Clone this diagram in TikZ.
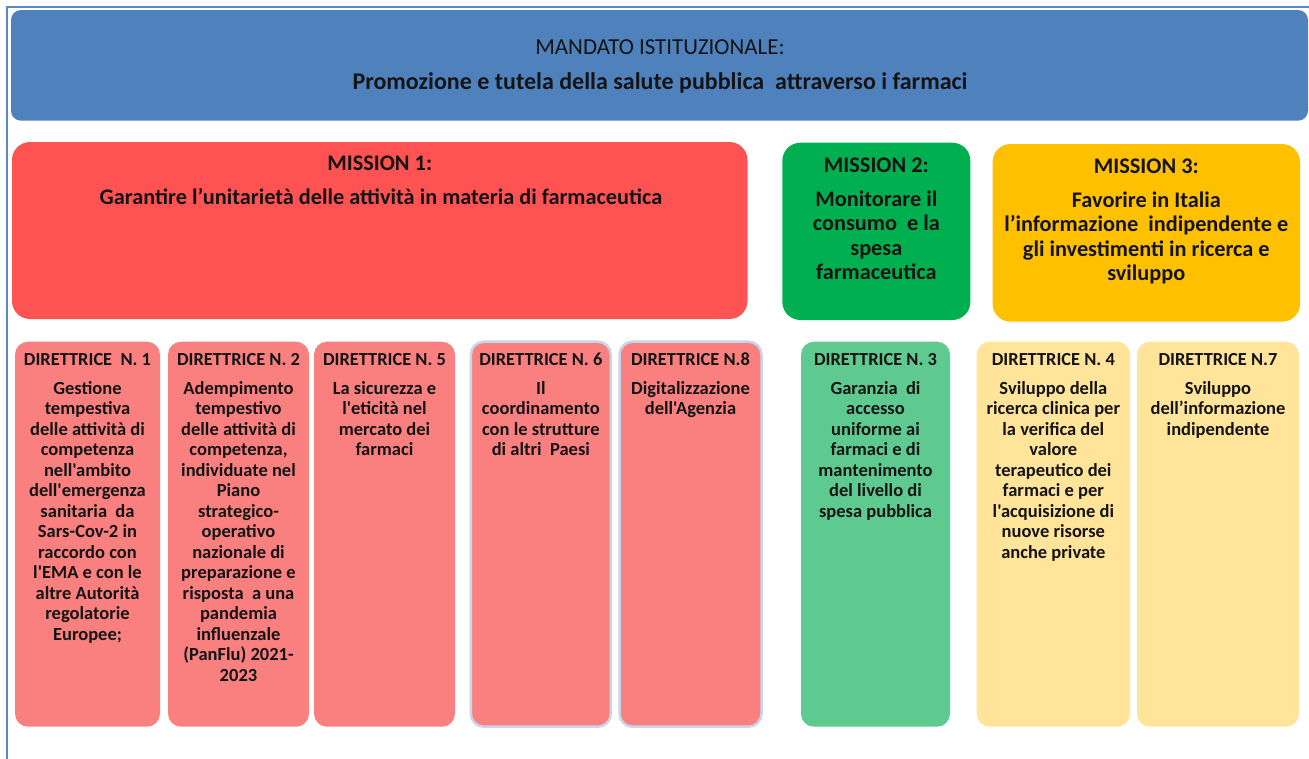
\documentclass[tikz,border=0pt]{standalone}
\usepackage{fontspec}
\newfontfamily\cf{Carlito}
\newcommand{\mlines}[1]{\begin{tabular}[t]{@{}c@{}}#1\end{tabular}}
\definecolor{frameblue}{RGB}{92,135,200}
\definecolor{topblue}{RGB}{79,129,189}
\definecolor{mred}{RGB}{255,82,82}
\definecolor{mgreen}{RGB}{0,176,80}
\definecolor{myellow}{RGB}{255,192,0}
\definecolor{dred}{RGB}{250,128,128}
\definecolor{dgreen}{RGB}{94,202,144}
\definecolor{dyellow}{RGB}{255,228,153}
\definecolor{glow}{RGB}{200,212,232}
\definecolor{txt}{RGB}{20,20,20}
\tikzset{
  box/.style={inner sep=0pt, outer sep=0pt, draw=none},
  topbox/.style={box, fill=topblue, rounded corners=10pt},
  misbox/.style={box, rounded corners=18pt},
  dirbox/.style={box, rounded corners=13pt, minimum height=385pt},
  glowbox/.style={dirbox, draw=glow, line width=2.5pt},
  toptext/.style={inner sep=0pt, anchor=base, text=txt, font=\cf\fontsize{22.9}{26}\selectfont},
  mistitle/.style={inner sep=0pt, anchor=base, text=txt, font=\cf\bfseries\fontsize{22.3}{24.5}\selectfont},
  mistext/.style={inner sep=0pt, anchor=base, text=txt, font=\cf\bfseries\fontsize{22.3}{24.5}\selectfont},
  dirtitle/.style={inner sep=0pt, anchor=base, text=txt, font=\cf\bfseries\fontsize{18.4}{20.5}\selectfont},
  dirtext/.style={inner sep=0pt, anchor=base, text=txt, font=\cf\bfseries\fontsize{18.5}{20.5}\selectfont}
}
\begin{document}
\begin{tikzpicture}[x=1pt,y=-1pt]
\useasboundingbox (0,0) rectangle (1309,758);
\clip (0,0) rectangle (1309,758);
\fill[white] (0,0) rectangle (1309,758);
\draw[frameblue, line width=2pt] (7,800) -- (7,7) -- (1350,7);

% top box
\node[topbox, minimum width=1297pt, minimum height=110.7pt] (top) at (659.5,65.35) {};
\node[toptext] (topt1) at (660,54) {MANDATO ISTITUZIONALE:};
\node[toptext, font=\cf\bfseries\fontsize{24}{26}\selectfont] (topt2) at (660,89) {Promozione e tutela della salute pubblica\ \ attraverso i farmaci};

% missions
\node[misbox, fill=mred, minimum width=735.5pt, minimum height=177pt] (m1) at (379.75,230.5) {};
\node[mistitle] (m1t) at (379.75,170) {MISSION 1:};
\node[mistext] (m1b) at (381,204) {Garantire l’unitarietà delle attività in materia di farmaceutica};

\node[misbox, fill=mgreen, minimum width=188pt, minimum height=177.3pt] (m2) at (876.35,231.35) {};
\node[mistitle] (m2t) at (876.35,172) {MISSION 2:};
\node[mistext] (m2b) at (876.35,206) {\mlines{Monitorare il\\consumo\ \ e la\\spesa\\farmaceutica}};

\node[misbox, fill=myellow, minimum width=307.4pt, minimum height=177.7pt] (m3) at (1146.3,232.85) {};
\node[mistitle] (m3t) at (1146.3,173) {MISSION 3:};
\node[mistext] (m3b) at (1146.3,207) {\mlines{Favorire in Italia\\l’informazione\ \ indipendente e\\gli investimenti in ricerca e\\sviluppo}};

% direttrici
\node[dirbox, fill=dred, minimum width=145pt] (d1) at (87.5,534.2) {};
\node[dirtitle] (d1t) at (87.5,365) {DIRETTRICE\ \ N. 1};
\node[dirtext] (d1b) at (87.5,394) {\mlines{Gestione\\tempestiva\\delle attività di\\competenza\\nell'ambito\\dell'emergenza\\sanitaria\ \ da\\Sars-Cov-2 in\\raccordo con\\l'EMA e con le\\altre Autorità\\regolatorie\\Europee;}};

\node[dirbox, fill=dred, minimum width=141pt] (d2) at (238.5,534.2) {};
\node[dirtitle] (d2t) at (238.5,365) {DIRETTRICE N. 2};
\node[dirtext] (d2b) at (238.5,394) {\mlines{Adempimento\\tempestivo\\delle attività di\\competenza,\\individuate nel\\Piano\\strategico-\\operativo\\nazionale di\\preparazione e\\risposta\ \ a una\\pandemia\\influenzale\\(PanFlu) 2021-\\2023}};

\node[dirbox, fill=dred, minimum width=141pt] (d5) at (384.5,534.2) {};
\node[dirtitle] (d5t) at (384.5,365) {DIRETTRICE N. 5};
\node[dirtext] (d5b) at (384.5,394) {\mlines{La sicurezza e\\l'eticità nel\\mercato dei\\farmaci}};

\node[glowbox, fill=dred, minimum width=140pt] (d6) at (540.85,534.2) {};
\node[dirtitle] (d6t) at (540.85,365) {DIRETTRICE N. 6};
\node[dirtext] (d6b) at (540.85,394) {\mlines{Il\\coordinamento\\con le strutture\\di altri\ \ Paesi}};

\node[glowbox, fill=dred, minimum width=142pt] (d8) at (690.5,534.2) {};
\node[dirtitle] (d8t) at (690.5,365) {DIRETTRICE N.8};
\node[dirtext] (d8b) at (690.5,394) {\mlines{Digitalizzazione\\dell'Agenzia}};

\node[dirbox, fill=dgreen, minimum width=149pt] (d3) at (875.5,534.2) {};
\node[dirtitle] (d3t) at (875.5,365) {DIRETTRICE N. 3};
\node[dirtext] (d3b) at (875.5,394) {\mlines{Garanzia\ \ di\\accesso\\uniforme ai\\farmaci e di\\mantenimento\\del livello di\\spesa pubblica}};

\node[dirbox, fill=dyellow, minimum width=153.3pt] (d4) at (1053.35,534.2) {};
\node[dirtitle] (d4t) at (1053.35,365) {DIRETTRICE N. 4};
\node[dirtext] (d4b) at (1053.35,394) {\mlines{Sviluppo della\\ricerca clinica per\\la verifica del\\valore\\terapeutico dei\\farmaci e per\\l'acquisizione di\\nuove risorse\\anche private}};

\node[dirbox, fill=dyellow, minimum width=162pt] (d7) at (1218,534.2) {};
\node[dirtitle] (d7t) at (1218,365) {DIRETTRICE N.7};
\node[dirtext] (d7b) at (1218,394) {\mlines{Sviluppo\\dell’informazione\\indipendente}};
\end{tikzpicture}
\end{document}
